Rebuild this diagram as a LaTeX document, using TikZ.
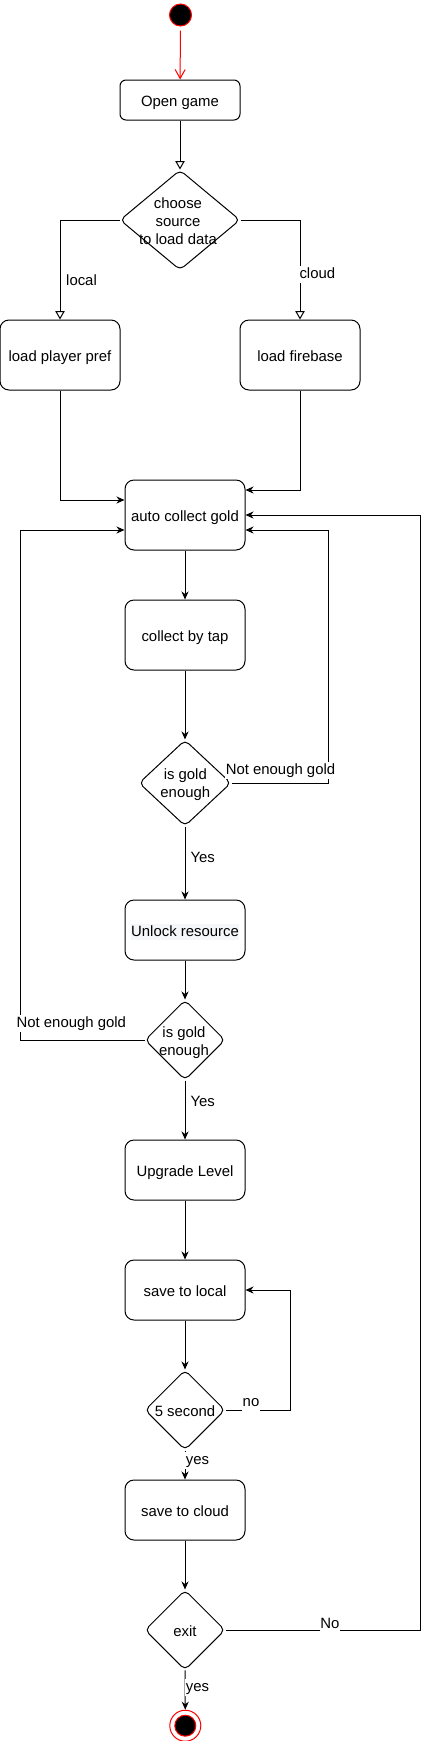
\documentclass[tikz,border=0pt]{standalone}
\usepackage{fontspec}
\setmainfont{Liberation Sans}
\usetikzlibrary{arrows.meta,shapes.geometric}
\definecolor{hl}{HTML}{F5F6F7}
\begin{document}
\begin{tikzpicture}[x=1pt,y=-1pt,
  font=\fontsize{14.9}{17.9}\selectfont,
  line width=1pt,
  act/.style={draw, fill=white, rounded corners=9pt, minimum width=120pt, inner sep=0pt, align=center, text height=12pt, text depth=0pt},
  dec/.style={draw, fill=white, diamond, rounded corners=5pt, inner sep=0pt},
  dtext/.style={inner sep=0pt, align=center},
  stext/.style={inner sep=0pt, text height=12pt, text depth=0pt},
  flow/.style={-{Stealth[length=8pt,width=7pt,inset=2.5pt]}},
  hollow/.style={-{Triangle[open,length=8.5pt,width=9.5pt]}},
  lbl/.style={fill=white, inner sep=0.5pt, text height=12pt, text depth=4pt},
]
\useasboundingbox (0,0) rectangle (430,1741);

% nodes
\node[circle, fill=black, draw=red, minimum size=22pt, inner sep=0pt] (start) at (180.5,15) {};
\node[act, minimum height=40pt, rounded corners=6pt] (open) at (180,100) {Open game};
\node[dec, minimum width=120pt, minimum height=100pt] (choose) at (180,220) {};
\node[dtext] (chooseT) at (178,221) {choose\\source\\to load data};
\node[act, minimum height=70pt] (pref) at (60,355) {load player pref};
\node[act, minimum height=70pt] (fire) at (300,355) {load firebase};
\node[act, minimum height=70pt] (auto) at (185,515) {auto collect gold};
\node[act, minimum height=70pt] (tap) at (185,635) {collect by tap};
\node[dec, minimum width=92pt, minimum height=86pt] (g1) at (185,783) {};
\node[dtext] (g1T) at (185.3,785) {is gold\\enough};
\node[act, minimum height=60pt] (unlock) at (185,930) {{\setlength{\fboxsep}{0pt}\colorbox{hl}{\rule[-4pt]{0pt}{16.5pt}Unlock resource}}};
\node[dec, minimum width=80pt, minimum height=80pt] (g2) at (185,1040) {};
\node[dtext] (g2T) at (184,1042.4) {is gold\\enough};
\node[act, minimum height=60pt] (up) at (185,1170) {Upgrade Level};
\node[act, minimum height=60pt] (local) at (185,1290) {save to local};
\node[dec, minimum width=80pt, minimum height=80pt] (sec) at (185,1410) {};
\node[stext] (secT) at (185,1410.5) {5 second};
\node[act, minimum height=60pt] (cloud) at (185,1510) {save to cloud};
\node[dec, minimum width=80pt, minimum height=80pt] (exit) at (185,1630) {};
\node[stext] (exitT) at (185,1630.5) {exit};
\node[circle, draw=red, fill=white, minimum size=31pt, inner sep=0pt] (end) at (185.3,1725.7) {};
\node[circle, draw=red, fill=black, minimum size=21pt, inner sep=0pt] (endIn) at (end) {};

% connectors
\draw[red, -{Straight Barb[length=9pt,width=10pt]}, shorten <=4pt] (start) -- (open);
\draw[hollow] (open) -- (choose);
\draw[hollow] (choose.west) -| (pref.north);
\draw[hollow] (choose.east) -| (fire.north);
\draw[flow] (pref.south) |- ([yshift=15pt]auto.west);
\draw[flow] (fire.south) |- ([yshift=25pt]auto.east);
\draw[flow] (auto) -- (tap);
\draw[flow] (tap) -- (g1);
\draw[flow] (g1.east) -| (328.7,530) -- ([yshift=-15pt]auto.east);
\draw[flow] (g1) -- (unlock);
\draw[flow] (unlock) -- (g2);
\draw[flow] (g2.west) -| (20.7,530) -- ([yshift=-15pt]auto.west);
\draw[flow] (g2) -- (up);
\draw[flow] (up) -- (local);
\draw[flow] (local) -- (sec);
\draw[flow] (sec.east) -| (290.3,1290) -- (local.east);
\draw[flow] (sec) -- (cloud);
\draw[flow] (cloud) -- (exit);
\draw[flow] (exit.east) -| (420.3,515) -- (auto.east);
\draw[flow] (exit) -- (end);

% labels
\node[lbl, anchor=west] (lLocal) at (65.2,281.5) {local};
\node[lbl, anchor=west] (lCloud) at (298.5,274.5) {cloud};
\node[lbl] (lNeg1) at (280.5,770) {Not enough gold};
\node[lbl, anchor=west] (lYes1) at (189.5,858.7) {Yes};
\node[lbl] (lNeg2) at (71.3,1023.3) {Not enough gold};
\node[lbl, anchor=west] (lYes2) at (189.5,1102.7) {Yes};
\node[lbl] (lNo1) at (251,1402.7) {no};
\node[lbl, anchor=west] (lYes3) at (184.8,1460) {yes};
\node[lbl] (lNo2) at (330,1624.3) {No};
\node[lbl, anchor=west] (lYes4) at (184.8,1687.7) {yes};
\end{tikzpicture}
\end{document}
